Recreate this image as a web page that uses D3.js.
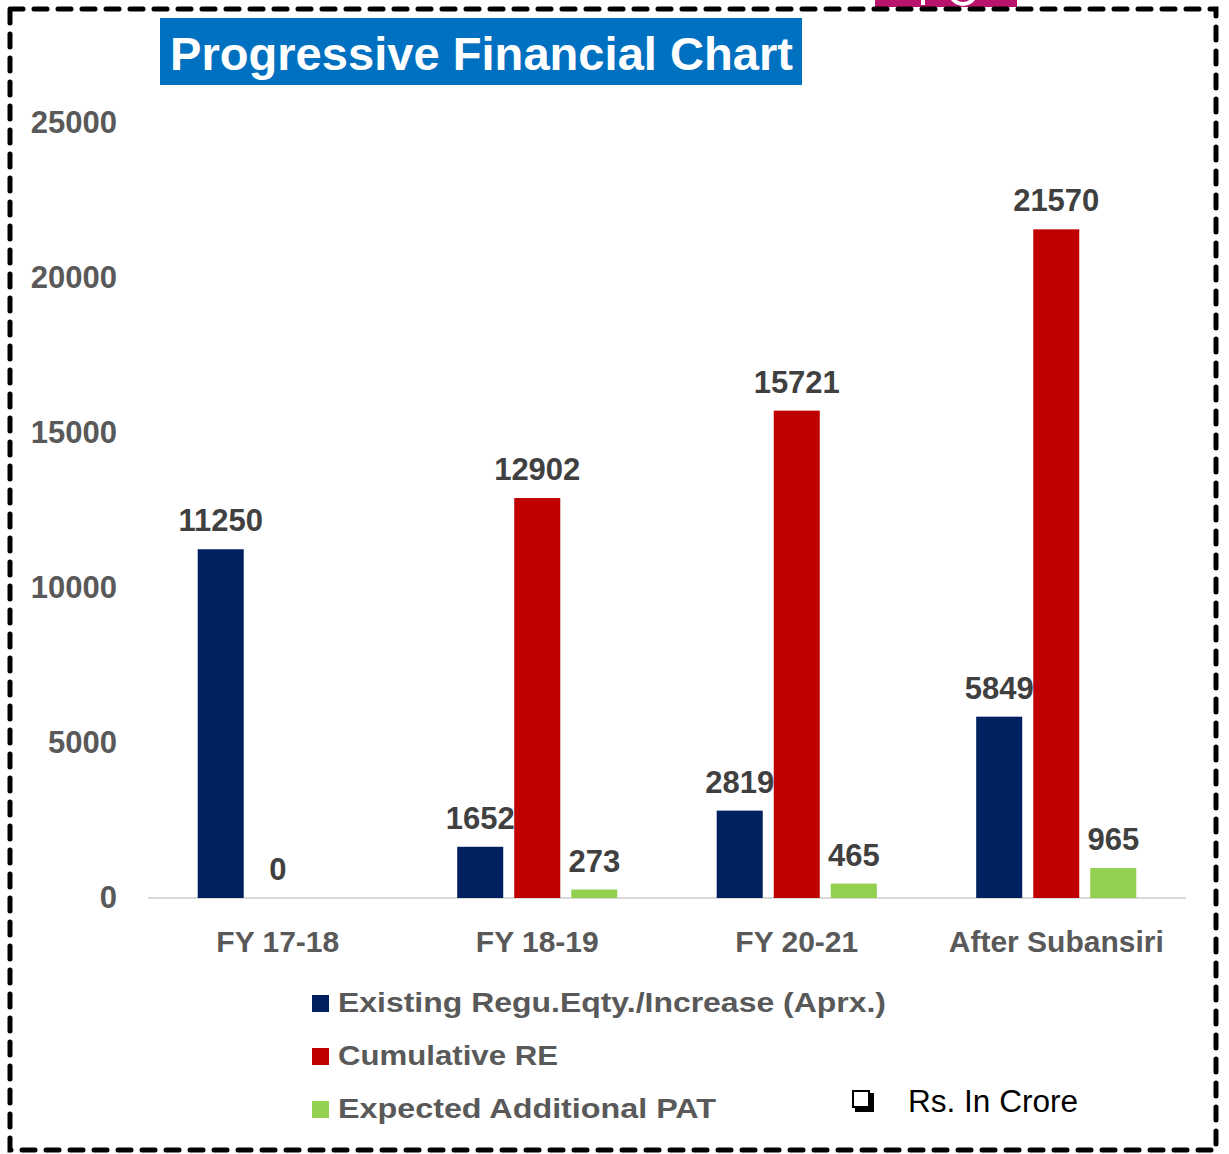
<!DOCTYPE html>
<html>
<head>
<meta charset="utf-8">
<script src="https://cdn.jsdelivr.net/npm/d3@7"></script>
<style>
    body { margin: 0; background: #fff; }
    text { font-family: "Liberation Sans", Arial, sans-serif; }
</style>
</head>
<body>
<div id="chart"></div>
<script>
// DATA
// ============================================================ //
const categories = ["FY 17-18", "FY 18-19", "FY 20-21", "After Subansiri"];
const seriesNames = ["Existing Regu.Eqty./Increase (Aprx.)", "Cumulative RE", "Expected Additional PAT"];
const existingEquity = [11250, 1652, 2819, 5849];
const cumulativeRE = [0, 12902, 15721, 21570];
const additionalPAT = [null, 273, 465, 965];
const yTicks = [0, 5000, 10000, 15000, 20000, 25000];
const colors = ["#002060", "#C00000", "#92D050"];
const titleText = "Progressive Financial Chart";
const unitText = "Rs. In Crore";

const seriesValues = [existingEquity, cumulativeRE, additionalPAT];
// ============================================================ //

const width = 1229;
const height = 1154;
const plot = { left: 148, right: 1186, top: 123, bottom: 898 };

const svg = d3.select("#chart")
    .append("svg")
    .attr("width", width)
    .attr("height", height);

// cropped magenta shape peeking over the top
svg.append("clipPath").attr("id", "topClip")
    .append("rect").attr("x", 875).attr("y", 0).attr("width", 142).attr("height", 7);
const topPiece = svg.append("g").attr("clip-path", "url(#topClip)");
topPiece.append("rect").attr("x", 875).attr("y", 0).attr("width", 142).attr("height", 7).attr("fill", "#B8146C");
topPiece.append("circle").attr("cx", 963).attr("cy", -9).attr("r", 13)
    .attr("fill", "none").attr("stroke", "#fff").attr("stroke-width", 4);
topPiece.append("rect").attr("x", 921).attr("y", 0).attr("width", 4).attr("height", 5).attr("fill", "#fff");

// dashed frame
svg.append("rect")
    .attr("x", 10).attr("y", 9)
    .attr("width", 1206).attr("height", 1141)
    .attr("fill", "none")
    .attr("stroke", "#000")
    .attr("stroke-width", 5)
    .attr("stroke-dasharray", "13,11")
    .attr("stroke-linecap", "round");

// title
svg.append("rect")
    .attr("x", 160).attr("y", 18)
    .attr("width", 642).attr("height", 67)
    .attr("fill", "#0070C0");
svg.append("text")
    .attr("x", 170).attr("y", 70)
    .attr("fill", "#fff")
    .attr("font-size", 46)
    .attr("font-weight", "bold")
    .attr("textLength", 623)
    .attr("lengthAdjust", "spacingAndGlyphs")
    .text(titleText);

// scales
const y = d3.scaleLinear()
    .domain([0, 25000])
    .range([plot.bottom, plot.top]);

const x0 = d3.scaleBand()
    .domain(categories)
    .range([plot.left, plot.right])
    .paddingInner(0.383)
    .paddingOuter(0.383 / 2);

const x1 = d3.scaleBand()
    .domain(d3.range(seriesNames.length))
    .range([0, x0.bandwidth()])
    .paddingInner(0.193);

// y axis labels
svg.append("g")
    .attr("transform", "translate(117,0)")
    .call(d3.axisLeft(y).tickValues(yTicks).tickSize(0).tickPadding(0).tickFormat(d3.format("d")))
    .call(g => g.select(".domain").remove())
    .call(g => g.selectAll("text")
        .attr("fill", "#595959")
        .attr("font-size", 31)
        .attr("font-weight", "bold")
        .attr("font-family", "'Liberation Sans', Arial, sans-serif"));

// baseline
svg.append("line")
    .attr("x1", plot.left).attr("x2", plot.right)
    .attr("y1", y(0)).attr("y2", y(0))
    .attr("stroke", "#D9D9D9")
    .attr("stroke-width", 2);

// x axis labels
svg.append("g")
    .attr("transform", `translate(0,${y(0)})`)
    .call(d3.axisBottom(x0).tickSize(0).tickPadding(33))
    .call(g => g.select(".domain").remove())
    .call(g => g.selectAll("text")
        .attr("fill", "#595959")
        .attr("font-size", 30)
        .attr("font-weight", "bold")
        .attr("font-family", "'Liberation Sans', Arial, sans-serif"));

// bars + labels
const barData = [];
categories.forEach((c, ci) => {
    seriesValues.forEach((vals, si) => {
        if (vals[ci] !== null) barData.push({ cat: c, s: si, value: vals[ci] });
    });
});

const groups = svg.append("g");

groups.selectAll("rect")
    .data(barData)
    .enter()
    .append("rect")
    .attr("x", d => x0(d.cat) + x1(d.s))
    .attr("y", d => y(d.value))
    .attr("width", x1.bandwidth())
    .attr("height", d => y(0) - y(d.value))
    .attr("fill", d => colors[d.s]);

groups.selectAll("text")
    .data(barData)
    .enter()
    .append("text")
    .attr("x", d => x0(d.cat) + x1(d.s) + x1.bandwidth() / 2)
    .attr("y", d => y(d.value) - 18)
    .attr("text-anchor", "middle")
    .attr("fill", "#404040")
    .attr("font-size", 31)
    .attr("font-weight", "bold")
    .text(d => d.value);

// legend
const legend = svg.append("g");
const legendRows = [1012, 1065, 1118];
const legendWidths = [548, 220, 378];
seriesNames.forEach((name, i) => {
    legend.append("rect")
        .attr("x", 312).attr("y", legendRows[i] - 17)
        .attr("width", 17).attr("height", 17)
        .attr("fill", colors[i]);
    legend.append("text")
        .attr("x", 338).attr("y", legendRows[i])
        .attr("fill", "#595959")
        .attr("font-size", 28)
        .attr("font-weight", "bold")
        .attr("textLength", legendWidths[i])
        .attr("lengthAdjust", "spacingAndGlyphs")
        .text(name);
});

// unit note with checkbox bullet
svg.append("rect")
    .attr("x", 853).attr("y", 1091)
    .attr("width", 16).attr("height", 16)
    .attr("fill", "#fff")
    .attr("stroke", "#000")
    .attr("stroke-width", 2);
svg.append("path")
    .attr("d", "M855,1110 L872,1110 L872,1093")
    .attr("fill", "none")
    .attr("stroke", "#000")
    .attr("stroke-width", 4);
svg.append("text")
    .attr("x", 908).attr("y", 1112)
    .attr("fill", "#000")
    .attr("font-size", 31)
    .attr("textLength", 170)
    .attr("lengthAdjust", "spacingAndGlyphs")
    .text(unitText);
</script>
</body>
</html>
